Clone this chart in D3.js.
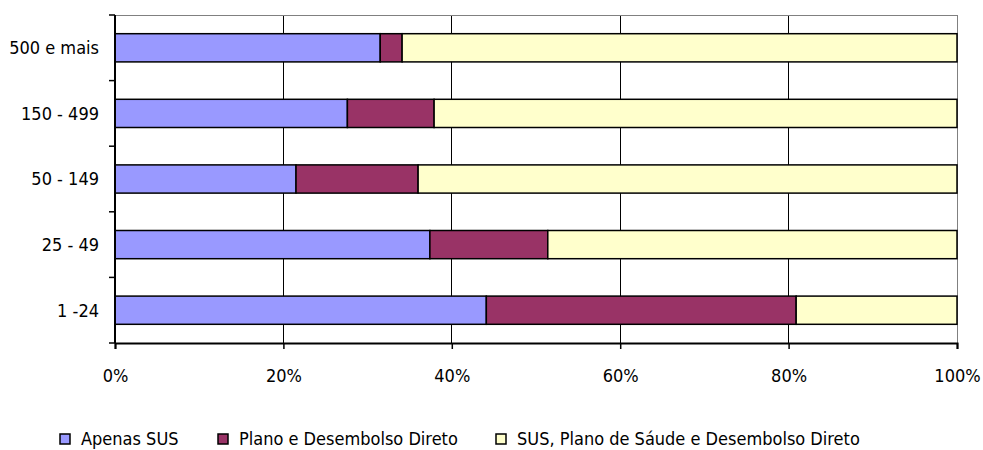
<!DOCTYPE html>
<html>
<head>
<meta charset="utf-8">
<script src="https://cdn.jsdelivr.net/npm/d3@7"></script>
<style>
  body { margin: 0; background: #fff; }
  text { font-family: "DejaVu Sans Condensed", "Liberation Sans", sans-serif; fill: #000; }
</style>
</head>
<body>
<div id="container"></div>
<script>
/* DATA */
const categories = ["500 e mais", "150 - 499", "50 - 149", "25 - 49", "1 -24"];
const seriesNames = ["Apenas SUS", "Plano e Desembolso Direto", "SUS, Plano de Sáude e Desembolso Direto"];
const apenasSUS = [31.5, 27.6, 21.5, 37.4, 44.1];
const planoDesembolso = [2.6, 10.3, 14.5, 14.0, 36.8];
const susPlanoDesembolso = [65.9, 62.1, 64.0, 48.6, 19.1];
const xTicks = [0, 20, 40, 60, 80, 100];

/* CONSTANTS */
const width = 983, height = 450;
const margin = {top: 15, bottom: 107, left: 115, right: 26};
const colors = ["#9999FF", "#993366", "#FFFFCC"];
const fontSize = 18;

const rows = categories.map((c, i) => ({
  cat: c, vals: [apenasSUS[i], planoDesembolso[i], susPlanoDesembolso[i]]
}));

/* SCALES */
const xScale = d3.scaleLinear()
  .domain([0, 100])
  .range([margin.left, width - margin.right]);

const yScale = d3.scaleBand()
  .domain(categories)
  .range([margin.top, height - margin.bottom])
  .paddingInner(0.57)
  .paddingOuter(0.285);

const yOuter = d3.scaleBand()
  .domain(categories)
  .range([margin.top, height - margin.bottom]);

const svg = d3.select("#container")
  .append("svg")
  .attr("width", width)
  .attr("height", height);

// gridlines
svg.append("g")
  .selectAll("line")
  .data(xTicks.slice(1))
  .join("line")
  .attr("x1", d => xScale(d))
  .attr("x2", d => xScale(d))
  .attr("y1", margin.top)
  .attr("y2", height - margin.bottom)
  .attr("stroke", d => d === 100 ? "#808080" : "#000")
  .attr("stroke-width", 1)
  .attr("shape-rendering", "crispEdges");

// top border
svg.append("line")
  .attr("x1", margin.left).attr("x2", width - margin.right)
  .attr("y1", margin.top).attr("y2", margin.top)
  .attr("stroke", "#808080")
  .attr("shape-rendering", "crispEdges");

// stacked bars
const stack = d3.stack().keys([0, 1, 2]).value((d, k) => d.vals[k]);
const series = stack(rows);

svg.append("g")
  .selectAll("g")
  .data(series)
  .join("g")
  .attr("fill", (d, i) => colors[i])
  .selectAll("rect")
  .data(d => d)
  .join("rect")
  .attr("x", d => xScale(d[0]))
  .attr("y", d => yScale(d.data.cat))
  .attr("width", d => xScale(d[1]) - xScale(d[0]))
  .attr("height", yScale.bandwidth())
  .attr("stroke", "#000")
  .attr("stroke-width", 1.5);

// X axis
const xAxis = d3.axisBottom(xScale)
  .tickValues(xTicks)
  .tickFormat(d => d + "%")
  .tickSize(6)
  .tickPadding(20);
const gx = svg.append("g")
  .attr("transform", `translate(0,${height - margin.bottom})`)
  .call(xAxis);
gx.select(".domain").attr("stroke", "#000").attr("stroke-width", 2);
gx.selectAll(".tick line").attr("stroke", "#000").attr("stroke-width", 1.5);
gx.selectAll("text").attr("font-size", fontSize).attr("font-family", null);

// Y axis
const gy = svg.append("g")
  .attr("transform", `translate(${margin.left},0)`);
gy.append("line")
  .attr("x1", 0).attr("x2", 0)
  .attr("y1", margin.top).attr("y2", height - margin.bottom)
  .attr("stroke", "#000").attr("stroke-width", 2);
const bounds = categories.map(c => yOuter(c)).concat([height - margin.bottom]);
gy.selectAll("line.tk")
  .data(bounds)
  .join("line")
  .attr("class", "tk")
  .attr("x1", -6).attr("x2", 0)
  .attr("y1", d => d).attr("y2", d => d)
  .attr("stroke", "#000").attr("stroke-width", 1.5);
gy.selectAll("text")
  .data(categories)
  .join("text")
  .attr("x", -16)
  .attr("y", d => yOuter(d) + yOuter.bandwidth() / 2)
  .attr("dy", "0.35em")
  .attr("text-anchor", "end")
  .attr("font-size", fontSize)
  .text(d => d);

// Legend (nudged up a little so descenders are not clipped)
const legendX = [60, 218, 496];
const legend = svg.append("g")
  .selectAll("g")
  .data(seriesNames)
  .join("g")
  .attr("transform", (d, i) => `translate(${legendX[i]},${434})`);
legend.append("rect")
  .attr("width", 10).attr("height", 10)
  .attr("fill", (d, i) => colors[i])
  .attr("stroke", "#000").attr("stroke-width", 1.5);
legend.append("text")
  .attr("x", 21)
  .attr("y", 11)
  .attr("font-size", fontSize)
  .text(d => d);
</script>
</body>
</html>
